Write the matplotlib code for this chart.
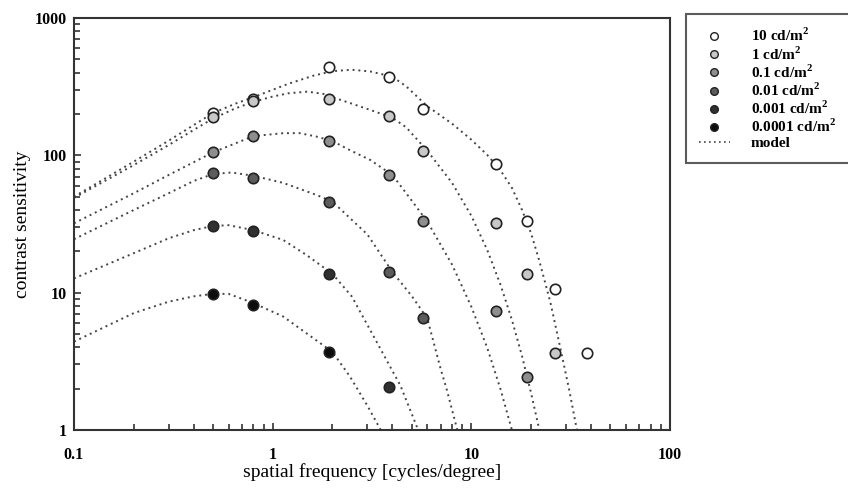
import matplotlib
matplotlib.use('Agg')
import matplotlib.pyplot as plt
from matplotlib.lines import Line2D
from matplotlib.ticker import LogLocator, NullFormatter

plt.rcParams['font.family'] = ['Liberation Serif', 'DejaVu Serif']
plt.rcParams['mathtext.fontset'] = 'custom'
plt.rcParams['mathtext.rm'] = 'Liberation Serif'
plt.rcParams['mathtext.bf'] = 'Liberation Serif:bold'

# measured points (spatial frequency in cycles/degree)
freq = [0.5, 0.8, 1.93, 3.86, 5.7, 13.3, 19, 26.5, 38.3]
sens_10 = [205, 259, 437, 374, 219, 87, 33, 10.6, 3.65]
sens_1 = [190, 250, 256, 194, 108, 32, 13.6, 3.65]
sens_01 = [105, 138, 127, 72, 33, 7.4, 2.44]
sens_001 = [74, 68, 46, 14.2, 6.5]
sens_0001 = [30.6, 28.3, 13.7, 2.07]
sens_00001 = [9.8, 8.2, 3.7]

# model curves
model_f_10 = [0.1, 0.2, 0.3, 0.4, 0.5, 0.65, 0.8, 1.0, 1.2, 1.6, 2.0, 2.5, 3.1, 4.0, 4.7,
              6, 8, 10, 12, 14, 16, 18, 20, 22, 25, 28, 31, 34]
model_s_10 = [50, 90, 128, 166, 203, 238, 265, 300, 332, 380, 410, 420, 408, 374, 318,
              228, 170, 130, 101, 78, 58, 40, 27, 17, 8.5, 4.0, 2.0, 1]
model_f_1 = [0.1, 0.2, 0.3, 0.4, 0.5, 0.65, 0.8, 1.0, 1.2, 1.5, 1.8, 2.0, 2.5, 3.1, 4.0, 4.7,
             6, 8, 10, 12, 14, 16, 18, 20, 22]
model_s_1 = [49, 85, 119, 153, 185, 220, 245, 268, 283, 291, 280, 265, 238, 214, 188, 160,
             108, 63, 36.3, 20.6, 11.5, 6.35, 3.45, 1.85, 1]
model_f_01 = [0.1, 0.2, 0.3, 0.5, 0.8, 1.13, 1.37, 1.66, 2.0, 2.45, 3.1, 4.0, 4.7,
              6, 8, 10, 12, 14, 16]
model_s_01 = [32, 53, 72, 105, 138, 145, 145, 137, 127, 109, 92.5, 72, 53,
              33, 16, 7.9, 4.0, 2.0, 1]
model_f_001 = [0.1, 0.2, 0.3, 0.4, 0.5, 0.62, 0.8, 1.13, 1.66, 2.0, 3.0, 4.0, 5.0, 6.0,
               6.5, 7.0, 7.5, 8.0, 8.5]
model_s_001 = [24.5, 40, 53, 65, 73, 75, 71, 63, 51.5, 46, 26.5, 14.2, 9.5, 6.5,
               4.2, 2.8, 2.0, 1.4, 1]
model_f_0001 = [0.1, 0.2, 0.3, 0.4, 0.5, 0.6, 0.8, 1.13, 1.48, 2.0, 2.5, 3.2, 4.4, 5.4]
model_s_0001 = [12.7, 19.4, 24.9, 28.5, 30.6, 31, 28.5, 24.2, 18.8, 13.7, 9.4, 4.9, 2.1, 1]
model_f_00001 = [0.1, 0.2, 0.3, 0.4, 0.5, 0.6, 0.8, 1.13, 1.48, 2.0, 2.45, 3.0, 3.5]
model_s_00001 = [4.4, 7.1, 8.6, 9.4, 9.8, 9.8, 8.4, 6.7, 5.06, 3.7, 2.45, 1.5, 1]

labels = ['10 cd/m$^\\mathbf{2}$', '1 cd/m$^\\mathbf{2}$', '0.1 cd/m$^\\mathbf{2}$',
          '0.01 cd/m$^\\mathbf{2}$', '0.001 cd/m$^\\mathbf{2}$', '0.0001 cd/m$^\\mathbf{2}$']
fills = ['#ffffff', '#c8c8c8', '#8e8e8e', '#5c5c5c', '#303030', '#0c0c0c']

data = [sens_10, sens_1, sens_01, sens_001, sens_0001, sens_00001]
models = [(model_f_10, model_s_10), (model_f_1, model_s_1), (model_f_01, model_s_01),
          (model_f_001, model_s_001), (model_f_0001, model_s_0001),
          (model_f_00001, model_s_00001)]

fig = plt.figure(figsize=(8.48, 4.92), dpi=100)
ax = fig.add_axes([74/848, 1-430/492, 596/848, 412/492])

dotted = (0, (1, 2))
for mf, ms in models:
    ax.plot(mf, ms, color='#444444', lw=1.4, ls=dotted, zorder=2)

for vals, fc in zip(data, fills):
    ax.plot(freq[:len(vals)], vals, ls='none', marker='o', ms=7.5, mfc=fc,
            mec='#222222', mew=1.2, zorder=3)

ax.set_xscale('log')
ax.set_yscale('log')
ax.set_xlim(0.1, 100)
ax.set_ylim(1, 1000)

ax.set_xticks([0.1, 1, 10, 100])
ax.set_xticklabels(['0.1', '1', '10', '100'])
ax.set_yticks([1, 10, 100, 1000])
ax.set_yticklabels(['1', '10', '100', '1000'])
ax.xaxis.set_minor_locator(LogLocator(base=10, subs=range(2, 10)))
ax.yaxis.set_minor_locator(LogLocator(base=10, subs=range(2, 10)))
ax.xaxis.set_minor_formatter(NullFormatter())
ax.yaxis.set_minor_formatter(NullFormatter())

ax.tick_params(which='both', direction='in', top=False, right=False,
               color='#333333', width=1.2)
ax.tick_params(which='major', length=5)
ax.tick_params(which='minor', length=4)
ax.tick_params(axis='x', which='major', pad=12)
ax.tick_params(axis='y', which='major', pad=5)
for lab in ax.get_xticklabels() + ax.get_yticklabels():
    lab.set_fontweight('bold')
    lab.set_fontsize(11.5)

for sp in ax.spines.values():
    sp.set_linewidth(1.5)
    sp.set_color('#333333')

ax.set_xlabel('spatial frequency [cycles/degree]', fontsize=14, labelpad=0)
ax.set_ylabel('contrast sensitivity', fontsize=14, labelpad=3)

handles = [Line2D([], [], ls='none', marker='o', ms=5.5, mfc=fc, mec='#222222', mew=1.0)
           for fc in fills]
handles.append(Line2D([], [], color='#444444', lw=1.2, ls=dotted))
leg = fig.legend(handles, labels + ['model'], loc='upper left',
                 bbox_to_anchor=(686/848, 0.0, 0.3, 1-14/492),
                 bbox_transform=fig.transFigure, mode='expand', borderaxespad=0,
                 fancybox=False, frameon=True, edgecolor='#333333',
                 prop={'weight': 'bold', 'size': 11}, handlelength=2.0,
                 handletextpad=1.4, borderpad=0.85, labelspacing=0.06)
leg.get_frame().set_linewidth(1.5)

fig.savefig('out.png', dpi=100)
